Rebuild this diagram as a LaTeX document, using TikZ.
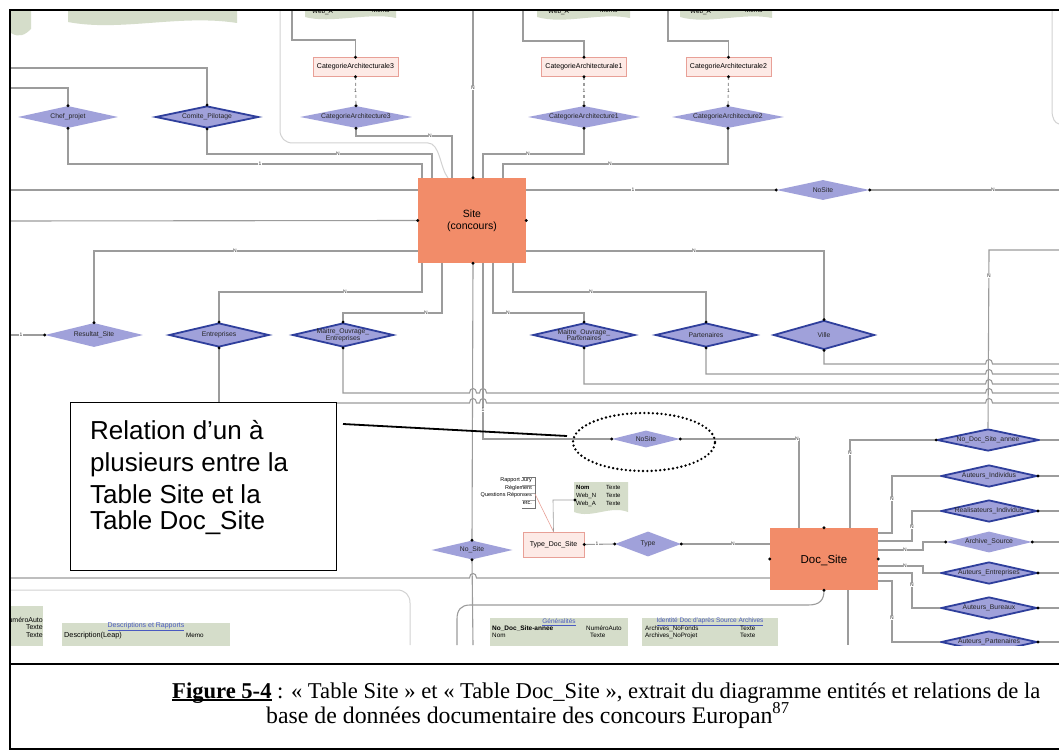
\documentclass[tikz,border=0pt]{standalone}
\usepackage{fontspec}
\setmainfont{Liberation Sans}
\newfontfamily\capfont{Liberation Serif}
\usetikzlibrary{shapes.geometric}
\definecolor{lav}{HTML}{A0A1DA}
\definecolor{dblue}{HTML}{2F3F9C}
\definecolor{orng}{HTML}{F28C69}
\definecolor{pinkf}{HTML}{FDEAE6}
\definecolor{pinkd}{HTML}{E8A097}
\definecolor{gtab}{HTML}{D5DDCA}
\definecolor{lgray}{HTML}{9C9C9C}
\definecolor{pgray}{HTML}{D2D2D2}
\definecolor{linkb}{HTML}{4A5AC0}
\tikzset{
  conn/.style={draw=lgray, line width=1.1pt},
  pan/.style={draw=pgray, line width=1pt},
  wdia/.style 2 args={diamond, fill=lav, inner sep=0pt, minimum width=#1, minimum height=#2},
  sdia/.style 2 args={diamond, fill=lav, draw=dblue, line width=1.8pt, inner sep=0pt, minimum width=#1, minimum height=#2},
  dtxt/.style={font=\fontsize{6.8}{6.8}\selectfont, text=black!85, inner sep=0pt, align=center},
  pbox/.style={fill=pinkf, draw=pinkd, line width=0.6pt, minimum width=85, minimum height=19, inner sep=1pt, font=\fontsize{7}{7}\selectfont},
  ent/.style={fill=orng, inner sep=0pt},
  nl/.style={font=\fontsize{5}{5}\selectfont, inner sep=0.4pt, fill=white, text=black!80},
  hop/.style 2 args={insert path={-- ({#1-3.5},#2) .. controls ({#1-3.5},{#2-6}) and ({#1+3.5},{#2-6}) .. ({#1+3.5},#2)}},
  tabtxt/.style={font=\fontsize{6.3}{6.5}\selectfont, inner sep=0pt, anchor=base west},
  tabhead/.style={font=\fontsize{6.5}{6.5}\selectfont, inner sep=0pt, text=linkb},
  ctext/.style={font=\fontsize{26}{28}\selectfont, inner sep=0pt, anchor=base west},
}
\newcommand\dt[1]{\fill (#1) circle[radius=1.6pt];}
\newlength\figulw
\newcommand\figul[1]{\settowidth\figulw{#1}\rlap{\rule[-2.6pt]{\figulw}{1.3pt}}#1}
\begin{document}
\begin{tikzpicture}[x=1pt,y=-1pt]
\useasboundingbox (0,0) rectangle (1059,751);
\fill[white] (0,0) rectangle (1059,751);
\begin{scope}
\clip (11,11) rectangle (1059,645);
% ---------- panels and partial top tables
\draw[pan] (280,11) -- (280,130) .. controls (280,138) and (285,143) .. (293,143) -- (428,143) .. controls (440,143) and (440,168) .. (448,178);
\draw[pan] (1052,11) -- (1052,110) .. controls (1052,119) and (1055,123) .. (1059,124);
\draw[pan] (11,590) -- (397,590) .. controls (405,590) and (410,595) .. (410,603) -- (410,645);
\fill[gtab] (11,10) -- (11,33) .. controls (19,38) and (25,35) .. (31,29) -- (31,10) -- cycle;
\fill[gtab] (68,10) -- (68,22) .. controls (120,32) and (180,14) .. (237,23) -- (237,10) -- cycle;
\fill[gtab] (305,10) -- (305,17) .. controls (330,24) and (370,12) .. (396,18) -- (396,10) -- cycle;
\fill[gtab] (537,10) -- (537,17) .. controls (565,25) and (600,12) .. (630,18) -- (630,10) -- cycle;
\fill[gtab] (680,10) -- (680,17) .. controls (708,25) and (743,12) .. (772,18) -- (772,10) -- cycle;
\node[tabtxt] (tw1) at (312,14) {Web\_A};
\node[tabtxt] (tm1) at (372,13) {Memo};
\node[tabtxt] (tw2) at (548,14) {Web\_A};
\node[tabtxt] (tm2) at (600,13) {Memo};
\node[tabtxt] (tw3) at (690,14) {Web\_A};
\node[tabtxt] (tm3) at (745,13) {Memo};
% ---------- entities
\node[ent, minimum width=108, minimum height=85] (site) at (472,220.5) {};
\node[font=\fontsize{10.5}{12.5}\selectfont, align=center, inner sep=0pt] (sitet) at (472,221) {Site\\(concours)};
\node[ent, minimum width=108, minimum height=62] (doc) at (824,559) {};
\node[font=\fontsize{11.5}{12}\selectfont, inner sep=0pt] (doct) at (824,560) {Doc\_Site};
% ---------- pink boxes
\node[pbox] (ca3) at (355.5,67) {CategorieArchitecturale3};
\node[pbox] (ca1) at (584,67) {CategorieArchitecturale1};
\node[pbox] (ca2) at (728.5,67) {CategorieArchitecturale2};
\node[pbox, minimum width=61, minimum height=25] (tds) at (553.5,544.5) {Type\_Doc\_Site};
% ---------- diamonds, top row
\node[wdia={100}{22}, label={[dtxt]center:Chef\_projet}] (chef) at (68,117) {};
\node[sdia={103}{22}, label={[dtxt]center:Comite\_Pilotage}] (comite) at (207,117) {};
\node[wdia={112}{22}, label={[dtxt]center:CategorieArchitecture3}] (da3) at (356,117) {};
\node[wdia={112}{22}, label={[dtxt]center:CategorieArchitecture1}] (da1) at (584,117) {};
\node[wdia={112}{22}, label={[dtxt]center:CategorieArchitecture2}] (da2) at (728,117) {};
\node[wdia={93}{20}, label={[dtxt]center:NoSite}] (ns1) at (823,190) {};
% ---------- diamonds, middle row
\node[wdia={98}{24}, label={[dtxt]center:Resultat\_Site}] (res) at (94,335) {};
\node[sdia={100}{24}, label={[dtxt]center:Entreprises}] (entr) at (219,335) {};
\node[sdia={101}{24}, label={[dtxt]center:Maitre\_Ouvrage\_\\Entreprises}] (moe) at (343,335) {};
\node[sdia={102}{24}, label={[dtxt]center:Maitre\_Ouvrage\_\\Partenaires}] (mop) at (584,335) {};
\node[sdia={101}{24}, label={[dtxt]center:Partenaires}] (part) at (706,335) {};
\node[sdia={101}{29}, label={[dtxt]center:Ville}] (ville) at (824,335) {};
% ---------- diamonds, lower part
\node[wdia={68}{17}, label={[dtxt]center:NoSite}] (ns2) at (646,439) {};
\node[wdia={81}{19}, label={[dtxt]center:No\_Site}] (nos) at (472,550) {};
\node[wdia={66}{25}, label={[dtxt]center:Type}] (type) at (648,544) {};
\node[sdia={102}{22}, label={[dtxt]center:No\_Doc\_Site\_annee}] (nda) at (988,440) {};
\node[sdia={96}{22}, label={[dtxt]center:Auteurs\_Individus}] (ai) at (989,476) {};
\node[sdia={96}{22}, label={[dtxt]center:Realisateurs\_Individus}] (ri) at (989,511) {};
\node[wdia={86}{21}, label={[dtxt]center:Archive\_Source}] (as) at (989,542) {};
\node[sdia={96}{22}, label={[dtxt]center:Auteurs\_Entreprises}] (ae) at (989,573) {};
\node[sdia={96}{22}, label={[dtxt]center:Auteurs\_Bureaux}] (ab) at (989,608) {};
\node[sdia={96}{22}, label={[dtxt]center:Auteurs\_Partenaires}] (ap) at (989,642) {};
% ---------- connectors, top
\draw[conn] (292,11) -- (292,40) -| (ca3.north);
\draw[conn] (523,11) -- (523,41) -| (ca1.north);
\draw[conn] (668,11) -- (668,41) -| (ca2.north);
\draw[conn, dashed] (ca3.south) -- (da3.north);
\draw[conn, dashed] (ca1.south) -- (da1.north);
\draw[conn, dashed] (ca2.south) -- (da2.north);
\draw[conn] (11,68) -| (comite.north);
\draw[conn] (11,88) -| (chef.north);
\draw[conn] (comite.south) |- (432,154) -- (432,0 |- site.north);
\draw[conn] (chef.south) |- (422,164) -- (422,0 |- site.north);
\draw[conn] (da3.south) |- (452,136) -- (452,0 |- site.north);
\draw[conn] (473,11) -- (473,0 |- site.north);
\draw[conn] (da1.south) |- (483,154) -- (483,0 |- site.north);
\draw[conn] (da2.south) |- (503,164) -- (503,0 |- site.north);
% ---------- connectors around Site
\draw[conn] (11,190) -- (site.west |- 0,190);
\draw[conn] (site.east |- 0,190) -- (ns1.west);
\draw[conn] (ns1.east) -- (1059,190);
\draw[conn] (11,221) -- (site.west);
\draw[conn] (res.north) |- (site.west |- 0,251);
\draw[conn] (site.east |- 0,251) -| (ville.north);
\draw[conn] (422,0 |- site.south) -- (422,292) -| (entr.north);
\draw[conn] (442,0 |- site.south) -- (442,313) -| (moe.north);
\draw[conn] (493,0 |- site.south) -- (493,313) -| (mop.north);
\draw[conn] (513,0 |- site.south) -- (513,292) -| (part.north);
\draw[conn] (473,0 |- site.south) -- (nos.north);
\draw[conn] (nos.south) -- (473,645);
\draw[conn] (483,0 |- site.south) -- (483,439) -- (ns2.west);
\draw[conn] (11,335) -- (res.west);
% ---------- long horizontal lines
\draw[conn] (ville.south) -- (824,364) [hop={989}{364}] -- (1059,364);
\draw[conn] (part.south) -- (706,374) [hop={989}{374}] -- (1059,374);
\draw[conn] (mop.south) -- (584,384) [hop={989}{384}] -- (1059,384);
\draw[conn] (moe.south) -- (343,393) [hop={473}{393}] [hop={483}{393}] [hop={989}{393}] -- (1059,393);
\draw[conn] (entr.south) -- (219,403);
\draw[conn] (70,403) [hop={473}{403}] [hop={483}{403}] [hop={989}{403}] -- (1059,403);
\draw[conn] (1059,250) -- (989,250) -- (nda.north);
% ---------- connectors around Doc_Site
\draw[conn] (ns2.east) -- (799,439) -- (799,0 |- doc.north);
\draw[conn] (tds.east) -- (type.west);
\draw[conn] (type.east) -- (doc.west |- 0,544);
\draw[conn] (11,578) [hop={473}{578}] -- (doc.west |- 0,578);
\draw[conn] (doc.south) .. controls (824,600) and (820,605) .. (808,605) -- (470,605) .. controls (461,605) and (457,610) .. (457,619) -- (457,645);
\draw[conn] (848,0 |- doc.south) -- (848,645);
\draw[conn] (nda.west) -| (850,0 |- doc.north);
\draw[conn] (ai.west) -| (892,533) -- (doc.east |- 0,533);
\draw[conn] (ri.west) -| (912,541) -- (doc.east |- 0,541);
\draw[conn] (as.west) -| (923,550) -- (doc.east |- 0,550);
\draw[conn] (ae.west) -| (923,566) -- (doc.east |- 0,566);
\draw[conn] (ab.west) -| (912,573) -- (doc.east |- 0,573);
\draw[conn] (ap.west) -| (892,581) -- (doc.east |- 0,581);
\draw[conn] (nda.east) -- (1059,440);
\draw[conn] (ai.east) -- (1059,476);
\draw[conn] (ri.east) -- (1059,511);
\draw[conn] (as.east) -- (1059,542);
\draw[conn] (ae.east) -- (1059,573);
\draw[conn] (ab.east) -- (1059,608);
\draw[conn] (ap.east) -- (1059,642);
% ---------- dots
\foreach \p in {ca3.north,ca3.south,ca1.north,ca1.south,ca2.north,ca2.south,
  da3.north,da3.south,da1.north,da1.south,da2.north,da2.south,
  chef.north,chef.south,comite.north,comite.south,ns1.west,ns1.east,
  site.west,site.east,res.north,res.west,entr.north,entr.south,moe.north,moe.south,
  mop.north,mop.south,part.north,part.south,ville.north,ville.south,
  ns2.west,ns2.east,nos.north,nos.south,tds.east,type.west,type.east,
  doc.north,doc.south,doc.west,doc.east,nda.west,ai.east,ri.east,as.west,as.east,ae.east,ab.east,ap.east}
  {\dt{\p}}
\dt{473,0 |- site.north}
\dt{473,0 |- site.south}
% ---------- cardinality labels
\node[nl] (l1) at (473,88) {N};
\node[nl] (l2) at (338,154) {N};
\node[nl] (l3) at (260,164) {1};
\node[nl] (l4) at (430,136) {N};
\node[nl] (l5) at (528,154) {N};
\node[nl] (l6) at (610,164) {N};
\node[nl] (l7) at (633,190) {1};
\node[nl] (l8) at (993,190) {N};
\node[nl] (l9) at (235,251) {N};
\node[nl] (l10) at (694,251) {N};
\node[nl] (l11) at (345,292) {N};
\node[nl] (l12) at (426,313) {N};
\node[nl] (l13) at (508,313) {N};
\node[nl] (l14) at (591,292) {N};
\node[nl] (l15) at (989,276) {N};
\node[nl] (l16) at (21,335) {1};
\node[nl] (l17) at (483,410) {1};
\node[nl] (l18) at (797,439) {N};
\node[nl] (l19) at (597,544) {1};
\node[nl] (l20) at (733,544) {N};
\node[nl] (l21) at (850,453) {N};
\node[nl] (l22) at (892,499) {N};
\node[nl] (l23) at (912,527) {N};
\node[nl] (l24) at (905,550) {N};
\node[nl] (l25) at (905,566) {N};
\node[nl] (l26) at (912,585) {N};
\node[nl] (l27) at (892,618) {N};
\node[nl] (l28) at (355.5,91) {1};
\node[nl] (l29) at (584,91) {1};
\node[nl] (l30) at (728.5,91) {1};
% ---------- Type_Doc_Site annotations
\node[font=\fontsize{5.5}{7.7}\selectfont, align=right, inner sep=0pt, anchor=north east] (lst) at (532,477.5) {Rapport Jury\\Règlement\\Questions Réponses\\etc.};
\draw[black!55, line width=0.5pt] (522,477) -- (535,477) -- (535,508) -- (522,508);
\draw[black!35, line width=0.4pt] (522,485) -- (535,485) (522,493) -- (535,493) (522,500) -- (535,500);
\draw[pinkd, line width=0.6pt] (535,494) -- (tds.north);
\fill[gtab] (574,482) -- (574,512) .. controls (592,519) and (610,505) .. (628,512) -- (628,482) -- cycle;
\node[tabtxt, font=\bfseries\fontsize{6}{6}\selectfont] (wn0) at (576,489) {Nom};
\node[tabtxt, font=\fontsize{6}{6}\selectfont] (wt0) at (606,489) {Texte};
\node[tabtxt, font=\fontsize{6}{6}\selectfont] (wn1) at (576,497) {Web\_N};
\node[tabtxt, font=\fontsize{6}{6}\selectfont] (wt1) at (606,497) {Texte};
\node[tabtxt, font=\fontsize{6}{6}\selectfont] (wn2) at (576,505) {Web\_A};
\node[tabtxt, font=\fontsize{6}{6}\selectfont] (wt2) at (606,505) {Texte};
\draw[lgray, line width=0.6pt] (tds.north) -- (553,500) -- (575,500);
\dt{575,500}
% ---------- bottom tables
\fill[gtab] (11,606) rectangle (43,646);
\node[tabtxt, anchor=base east, font=\fontsize{7}{7}\selectfont] (b1) at (43,622) {NuméroAuto};
\node[tabtxt, anchor=base east, font=\fontsize{7}{7}\selectfont] (b2) at (43,629) {Texte};
\node[tabtxt, anchor=base east, font=\fontsize{7}{7}\selectfont] (b3) at (43,637) {Texte};
\fill[gtab] (62,623) rectangle (230,646);
\node[tabhead, font=\fontsize{7}{7}\selectfont] (d0) at (146,627) {\underline{Descriptions et Rapports}};
\node[tabtxt, font=\fontsize{7.3}{7.3}\selectfont] (d1) at (64,637) {Description(Leap)};
\node[tabtxt] (d2) at (186,637) {Memo};
\fill[gtab] (490,618) rectangle (628,646);
\node[tabhead] (g0) at (559,622) {\underline{Généralités}};
\node[tabtxt, font=\bfseries\fontsize{6.5}{6.5}\selectfont] (g1) at (492,630) {No\_Doc\_Site-annee};
\node[tabtxt] (g2) at (586,630) {NuméroAuto};
\node[tabtxt] (g3) at (492,637) {Nom};
\node[tabtxt] (g4) at (590,637) {Texte};
\fill[gtab] (642,618) rectangle (778,646);
\node[tabhead] (i0) at (710,622) {\underline{Identité Doc d'après Source Archives}};
\node[tabtxt] (i1) at (645,630) {Archives\_NoFonds};
\node[tabtxt] (i2) at (740,630) {Texte};
\node[tabtxt] (i3) at (645,637) {Archives\_NoProjet};
\node[tabtxt] (i4) at (740,637) {Texte};
% ---------- callout
\node[draw=black, line width=1.3pt, fill=white, minimum width=266, minimum height=168, inner sep=0pt, anchor=north west] (callout) at (70,402) {};
\node[ctext] (c1) at (90,439) {Relation d’un à};
\node[ctext] (c2) at (90,471) {plusieurs entre la};
\node[ctext] (c3) at (90,503) {Table Site et la};
\node[ctext] (c4) at (90,529) {Table Doc\_Site};
\node[ellipse, draw=black, line width=2.6pt, dash pattern=on 0pt off 4.3pt, line cap=round, minimum width=142, minimum height=58, inner sep=0pt] (ell) at (644,442) {};
\coordinate (cl) at (343,424);
\coordinate (cr) at (567,436);
\draw[line width=1.8pt] (cl) -- (cr);
\end{scope}
% ---------- frame and caption
\draw[line width=2.4pt] (10,10) rectangle (1062,749);
\draw[line width=2.4pt] (10,664) -- (1062,664);
\node[anchor=base west, inner sep=0pt, font=\capfont\fontsize{22.6}{26}\selectfont] (cap1) at (172,698) {\figul{\textbf{Figure 5-4}} : « Table Site » et « Table Doc\_Site », extrait du diagramme entités et relations de la};
\node[anchor=base west, inner sep=0pt, font=\capfont\fontsize{23.8}{26}\selectfont] (cap2) at (266,723) {base de données documentaire des concours Europan\textsuperscript{87}};
\end{tikzpicture}
\end{document}
